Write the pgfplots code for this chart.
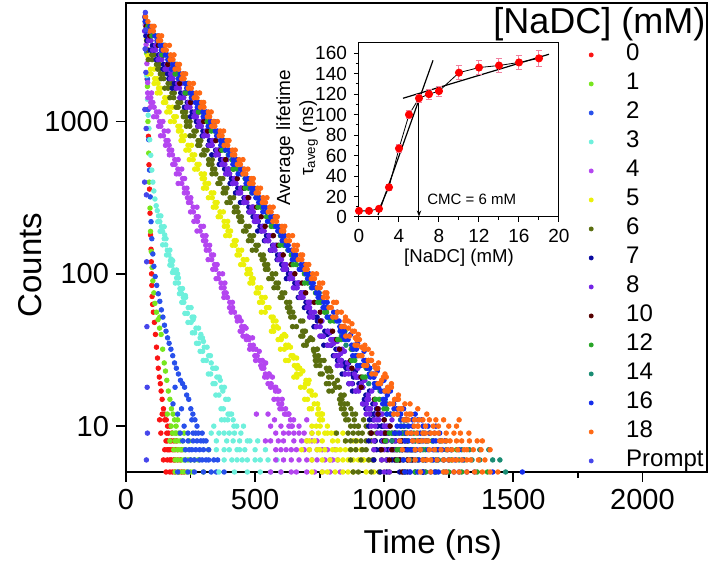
\documentclass[border=0pt]{standalone}
\usepackage{fontspec}
\setmainfont{Liberation Sans}
\usepackage{pgfplots}
\pgfplotsset{compat=1.18}
\usetikzlibrary{arrows.meta}
\definecolor{c0}{RGB}{250,20,20}
\definecolor{c1}{RGB}{120,230,30}
\definecolor{c2}{RGB}{40,80,235}
\definecolor{c3}{RGB}{110,240,220}
\definecolor{c4}{RGB}{180,70,240}
\definecolor{c5}{RGB}{235,240,10}
\definecolor{c6}{RGB}{90,110,15}
\definecolor{c7}{RGB}{10,10,160}
\definecolor{c8}{RGB}{115,35,230}
\definecolor{c10}{RGB}{85,0,0}
\definecolor{c12}{RGB}{40,165,40}
\definecolor{c14}{RGB}{25,140,115}
\definecolor{c16}{RGB}{20,45,235}
\definecolor{c18}{RGB}{255,105,20}
\definecolor{cp}{RGB}{70,70,235}
\definecolor{errpink}{RGB}{240,130,160}
\pgfplotsset{pt/.style={only marks, mark=*, mark size=1.15pt, color=#1, mark options={draw=#1, fill=#1}}}
\begin{document}
\begin{tikzpicture}
\begin{axis}[
 name=main, at={(0,0)}, anchor=south west,
 scale only axis, width=290.5pt, height=234.5pt,
 xmin=0, xmax=2250, ymode=log, ymin=5, ymax=6000,
 xtick={0,500,1000,1500,2000}, xticklabels={0,500,1000,1500,2000},
 minor xtick={250,750,1250,1750},
 ytick={10,100,1000}, yticklabels={10,100,1000},
 minor y tick style={draw=none},
 tick align=outside, tick pos=left,
 major tick length=5pt, minor tick length=3pt,
 tick style={black, line width=0.9pt},
 axis line style={line width=1pt},
 ticklabel style={font=\fontsize{14.5}{16}\selectfont},
 xlabel={Time (ns)}, ylabel={Counts},
 label style={font=\fontsize{16.5}{19}\selectfont},
 xlabel style={at={(axis description cs:0.528,-0.156)}, anchor=center},
 ylabel style={at={(axis description cs:-0.165,0.441)}, anchor=center},
 legend style={at={(rel axis cs:0.7966,0.921)}, anchor=north west, draw=none, fill=none,
   inner sep=0pt, row sep=0pt, column sep=15pt, font=\fontsize{12}{13}\selectfont,
   nodes={inner sep=1.5pt, text height=8.7pt, text depth=2.8pt}},
 legend cell align=left,
 legend image post style={mark size=1pt},
]
% 0
\addplot[pt=c0] coordinates {(76,4400)(79,3000)(82,1900)(84,1200)(87,800)(89,520)(91,360)(93,250)(95,180)(97,145)(98,120)(99,100)(100,84)(101,71)(103,63)(106,56)(110,48)(114,40)(118,33)(122,28)(125,24)(129,21)(133,19)(136,17)(140,15)(145,13)(150,12)(156,11)(161,10)
(140,12)(150,11)(165,9)(170,10)(175,8)(160,8)(180,7)(190,7)(150,7)(170,6)(185,6)(200,6)(145,6)(195,8)(210,6)(215,7)(155,5)(190,5)(225,5)(135,9)(158,9)(178,9)(205,5)(130,11)(165,7)(155,8)
(170,8)(185,8)(160,7)(170,7)(200,7)(160,6)(175,6)(190,6)(170,5)(180,5)(215,5)};
% 1
\addplot[pt=c1] coordinates {(77,4200)(80,2800)(83,1700)(85,1000)(88,620)(90,400)(93,270)(95,190)(98,140)(101,110)(104,90)(108,75)(112,64)(118,56)(124,50)(130,44)(136,40)(131,52)(142,32)(148,26)(153,23)(158,20)(164,17)(170,15)(176,13)(182,12)(188,11)(194,10)
(180,9)(195,9)(200,8)(210,8)(185,7)(220,7)(230,7)(190,6)(215,6)(240,6)(250,6)(205,5)(235,5)(260,5)(170,8)(225,9)(245,8)(200,11)(175,10)(160,12)(280,6)(300,5)(320,7)
(190,9)(205,9)(190,8)(220,8)(200,7)(210,7)(200,6)(225,6)(265,6)(190,5)(220,5)(250,5)};
% 2
\addplot[pt=c2] coordinates {(78,4000)(80,2900)(83,1900)(86,1200)(88,760)(91,480)(94,320)(97,220)(100,170)(104,135)(108,112)(113,96)(119,84)(125,74)(131,66)(137,58)(143,52)(149,46)(155,42)(161,38)(167,35)(174,32)(181,29)(188,26)(195,24)(203,22)(211,20)(219,19)(227,18)(235,16)(243,15)(251,13)(259,12)(267,11)(275,10)
(260,9)(280,9)(240,8)(290,8)(310,8)(230,7)(270,7)(300,7)(250,6)(285,6)(320,6)(340,6)(265,5)(330,5)(210,9)(225,10)(295,9)(255,11)(200,12)(215,13)(355,6)(380,5)(182,14)(190,18)
(240,9)(270,9)(220,8)(260,8)(275,8)(300,8)(245,7)(255,7)(285,7)(320,7)(230,6)(265,6)(295,6)(310,6)(200,5)(240,5)(300,5)(350,5)};
% 3
\addplot[pt=c3] coordinates {(75,4300)(77,3000)(80,2000)(83,1400)(86,1100)(89,900)(92,760)(96,600)(100,480)(104,400)(108,350)(112,310)(117,280)(121,260)(126,240)(131,220)(137,204)(142,190)(148,170)(154,155)(160,143)(166,133)(172,122)(178,114)(185,106)(190,102)(196,94)(203,87)(209,80)(216,74)(222,70)(224,65)(241,60)(238,55)(256,52)(252,48)(271,44)(266,41)(287,38)(281,35)(303,33)(297,31)(320,29)(311,27)(336,24)(328,22)(352,21)(345,19)(370,18)(360,16)(386,15)(377,13)(402,12)(394,11)(418,10)
(150,180)(175,125)(200,100)(212,78)(230,72)(260,50)(290,40)(300,36)(330,26)(350,24)(365,20)(375,17)
(135,240)(123,220)(148,204)(132,190)(155,170)(142,155)(170,143)(157,133)(181,122)(170,114)(196,106)(180,102)(203,94)(191,87)(219,80)(207,74)(231,70)(216,65)(252,60)(228,55)(263,52)(240,48)(281,44)(257,41)(296,38)(273,35)(314,33)(287,31)(327,29)(299,27)(346,24)(319,22)(361,21)(337,19)(381,18)(348,16)(396,15)(368,13)(409,12)(382,11)(429,10)
(420,9)(440,8)(380,7)(460,7)(500,6)(350,8)(410,6)(520,6)(360,5)(470,5)(560,5)(400,9)(430,7)(480,8)(540,7)(585,6)(450,6)(330,9)(395,12)(370,11)(415,11)(455,10)(340,10)(600,5)
(360,9)(380,9)(445,9)(390,8)(415,8)(470,8)(510,8)(350,7)(400,7)(440,7)(500,7)(380,6)(430,6)(470,6)(550,6)(420,5)(520,5)};
% 4
\addplot[pt=c4] coordinates {(75,4300)(78,3200)(81,2400)(84,1800)(84,1540)(96,1433)(96,1334)(109,1241)(118,1155)(119,1075)(130,1000)(135,931)(148,866)(145,806)(155,750)(167,698)(167,649)(180,604)(189,562)(190,523)(201,487)(206,453)(219,422)(216,392)(226,365)(238,340)(238,316)(251,294)(260,274)(261,255)(272,237)(277,221)(290,205)(287,191)(297,178)(309,165)(309,154)(322,143)(331,133)(332,124)(343,115)(348,107)(361,100)(358,93)(368,87)(380,81)(380,75)(393,70)(402,65)(413,60)(407,56)(438,52)(431,49)(459,45)(442,42)(467,39)(466,37)(493,34)(479,32)(508,29)(502,27)(533,25)(526,24)(554,22)(537,21)(562,19)(560,18)(588,17)(573,15)(603,14)(596,13)(628,12)(620,12)(649,11)(631,10)
(99,1540)(85,1433)(104,1334)(95,1241)(128,1155)(107,1075)(143,1000)(126,931)(163,866)(134,806)(163,750)(153,698)(177,649)(168,604)(202,562)(181,523)(216,487)(195,453)(227,422)(202,392)(236,365)(226,340)(251,316)(242,294)(275,274)(250,255)(280,237)(263,221)(300,205)(275,191)(310,178)(300,165)(324,154)(311,143)(339,133)(318,124)(353,115)(336,107)(374,100)(349,93)(383,87)(369,81)(388,75)(379,70)(412,65)(401,60)(420,56)(429,52)(446,49)(448,45)(450,42)(453,39)(476,37)(481,34)(492,32)(499,29)(517,27)(522,25)(534,24)(540,22)(547,21)(550,19)(573,18)(579,17)(588,15)(592,14)(604,13)(614,12)(630,12)(637,11)(644,10)
(440,50)(452,44)(465,44)(478,38)(490,38)(503,32)(516,31)(528,27)(541,26)(554,22)(567,21)(580,18)(592,17)(605,15)(618,13)(631,12)
(650,9)(680,8)(620,7)(710,7)(740,6)(590,8)(670,6)(770,6)(560,5)(700,5)(800,6)(830,5)(610,9)(640,7)(690,9)(720,8)(760,7)(580,6)(660,5)(540,8)(600,10)(700,11)(550,12)(575,11)(760,5)(810,7)(505,12)
(560,10)(640,10)(670,10)(580,9)(630,9)(670,9)(720,9)(560,8)(610,8)(650,8)(700,8)(740,8)(580,7)(600,7)(660,7)(690,7)(740,7)(780,7)(610,6)(640,6)(700,6)(720,6)(790,6)(820,6)(600,5)(640,5)(730,5)(790,5)};
% 5
\addplot[pt=c5] coordinates {(75,4500)(79,3500)(84,2700)(95,2207)(97,2054)(111,1911)(124,1778)(126,1655)(132,1540)(150,1433)(154,1334)(166,1241)(170,1155)(185,1075)(187,1000)(201,931)(214,866)(216,806)(222,750)(240,698)(244,649)(256,604)(260,562)(275,523)(277,487)(291,453)(304,422)(306,392)(312,365)(330,340)(334,316)(345,294)(349,274)(364,255)(366,237)(380,221)(393,205)(395,191)(401,178)(419,165)(423,154)(435,143)(439,133)(454,124)(456,115)(470,107)(483,100)(485,93)(491,87)(509,81)(513,75)(525,70)(529,65)(544,60)(539,56)(562,52)(581,49)(571,45)(572,42)(605,39)(601,37)(619,34)(613,32)(639,29)(629,27)(652,25)(671,24)(661,22)(662,21)(695,19)(691,18)(709,17)(703,15)(729,14)(719,13)(742,12)(761,12)(751,11)(752,10)
(109,2207)(85,2054)(121,1911)(109,1778)(134,1655)(121,1540)(163,1433)(145,1334)(180,1241)(158,1155)(195,1075)(172,1000)(209,931)(203,866)(229,806)(213,750)(254,698)(232,649)(266,604)(245,562)(283,523)(266,487)(304,453)(295,422)(320,392)(300,365)(340,340)(319,316)(353,294)(338,274)(377,255)(357,237)(394,221)(381,205)(405,191)(386,178)(427,165)(412,154)(448,143)(430,133)(468,124)(444,115)(480,107)(468,100)(493,93)(480,87)(522,81)(504,75)(539,70)(517,65)(554,60)(524,56)(570,52)(570,49)(584,45)(563,42)(619,39)(589,37)(629,34)(598,32)(647,29)(618,27)(665,25)(662,24)(675,22)(650,21)(705,19)(676,18)(717,17)(692,15)(742,14)(710,13)(756,12)(749,12)(761,11)(737,10)
(590,44)(601,38)(613,40)(625,33)(637,33)(649,28)(661,28)(673,24)(685,23)(697,20)(709,20)(721,16)(733,16)(745,13)(757,12)
(770,9)(800,8)(740,7)(830,7)(860,6)(700,8)(790,6)(900,6)(760,5)(880,5)(940,6)(720,9)(810,9)(850,8)(960,5)(680,7)
(730,8)(750,7)(780,9)(815,7)(840,6)(870,7)(895,8)(920,6)(780,5)(840,5)(910,7)(750,11)
(720,10)(780,10)(745,9)(795,9)(840,9)(710,8)(760,8)(820,8)(880,8)(710,7)(770,7)(800,7)(850,7)(890,7)(720,6)(760,6)(820,6)(880,6)(920,6)(960,6)(720,5)(810,5)(860,5)(930,5)(1000,5)};
% 6
\addplot[pt=c6] coordinates {(74,4900)(78,4000)(80,3400)(84,2943)(100,2738)(101,2548)(118,2371)(131,2207)(133,2054)(146,1911)(163,1778)(163,1655)(178,1540)(185,1433)(201,1334)(202,1241)(219,1155)(232,1075)(234,1000)(247,931)(263,866)(263,806)(279,750)(286,698)(302,649)(303,604)(320,562)(333,523)(335,487)(348,453)(364,422)(364,392)(379,365)(386,340)(403,316)(404,294)(421,274)(434,255)(436,237)(449,221)(465,205)(465,191)(480,178)(487,165)(503,154)(504,143)(521,133)(535,124)(537,115)(550,107)(566,100)(566,93)(581,87)(588,81)(604,75)(605,70)(622,65)(635,60)(632,56)(651,52)(676,49)(660,45)(684,42)(685,39)(711,37)(698,34)(726,32)(745,29)(733,27)(751,25)(776,24)(760,22)(785,21)(786,19)(812,18)(799,17)(827,15)(846,14)(834,13)(852,12)(877,12)(861,11)(885,10)
(109,2738)(86,2548)(129,2371)(123,2207)(145,2054)(136,1911)(177,1778)(150,1655)(187,1540)(170,1433)(212,1334)(194,1241)(231,1155)(222,1075)(248,1000)(234,931)(272,866)(248,806)(290,750)(278,698)(314,649)(293,604)(334,562)(320,523)(344,487)(333,453)(375,422)(356,392)(391,365)(376,340)(417,316)(391,294)(430,274)(419,255)(447,237)(441,221)(477,205)(455,191)(494,178)(474,165)(512,154)(489,143)(532,133)(527,124)(549,115)(540,107)(580,100)(553,93)(590,87)(573,81)(615,75)(597,70)(634,65)(625,60)(646,56)(638,52)(685,49)(645,45)(695,42)(677,39)(723,37)(688,34)(740,32)(732,29)(742,27)(736,25)(787,24)(752,22)(797,21)(776,19)(826,18)(786,17)(836,15)(831,14)(845,13)(844,12)(889,12)(851,11)(899,10)
(690,42)(702,36)(715,38)(728,31)(741,32)(754,27)(767,27)(780,23)(793,23)(806,19)(819,20)(832,16)(845,16)(858,14)(871,13)(884,11)
(900,9)(930,8)(870,7)(960,7)(990,6)(850,8)(910,6)(1020,5)(880,5)(945,9)(815,9)(1060,6)
(860,9)(890,8)(915,7)(940,6)(965,8)(985,7)(1000,9)(900,10)(920,11)(950,5)(1040,7)
(870,10)(930,10)(880,9)(915,9)(970,9)(870,8)(910,8)(950,8)(1010,8)(890,7)(930,7)(1010,7)(870,6)(955,6)(1010,6)(1050,6)(900,5)(980,5)(1080,5)};
% 7
\addplot[pt=c7] coordinates {(74,4800)(77,3652)(82,3398)(102,3162)(107,2943)(126,2738)(125,2548)(145,2371)(153,2207)(161,2054)(180,1911)(187,1778)(192,1655)(212,1540)(217,1433)(237,1334)(236,1241)(256,1155)(264,1075)(272,1000)(291,931)(298,866)(303,806)(323,750)(328,698)(347,649)(346,604)(366,562)(374,523)(382,487)(401,453)(408,422)(413,392)(433,365)(438,340)(457,316)(456,294)(476,274)(484,255)(492,237)(512,221)(519,205)(524,191)(544,178)(549,165)(568,154)(567,143)(587,133)(595,124)(603,115)(622,107)(629,100)(634,93)(654,87)(659,81)(678,75)(677,70)(697,65)(705,60)(708,56)(740,52)(741,49)(736,45)(770,42)(766,39)(798,37)(780,34)(813,32)(816,29)(819,27)(851,25)(852,24)(847,22)(881,21)(877,19)(908,18)(890,17)(923,15)(926,14)(929,13)(961,12)(962,12)(957,11)(991,10)
(111,3162)(94,2943)(141,2738)(117,2548)(156,2371)(143,2207)(173,2054)(166,1911)(196,1778)(179,1655)(227,1540)(209,1433)(248,1334)(226,1241)(268,1155)(250,1075)(281,1000)(278,931)(313,866)(295,806)(334,750)(318,698)(359,649)(332,604)(375,562)(361,523)(397,487)(393,453)(419,422)(403,392)(445,365)(424,340)(466,316)(443,294)(491,274)(476,255)(503,237)(502,221)(531,205)(510,191)(553,178)(536,165)(583,154)(559,143)(598,133)(585,124)(615,115)(608,107)(638,100)(621,93)(669,87)(651,81)(689,75)(667,70)(709,65)(691,60)(717,56)(727,52)(756,49)(728,45)(781,42)(756,39)(810,37)(766,34)(822,32)(803,29)(834,27)(843,25)(863,24)(837,22)(893,21)(863,19)(917,18)(877,17)(938,15)(918,14)(940,13)(951,12)(974,12)(943,11)(1000,10)
(780,40)(795,34)(808,36)(822,29)(835,31)(849,26)(862,26)(875,22)(889,23)(902,19)(916,20)(929,16)(943,17)(956,14)(970,13)(984,12)
(1000,9)(1030,8)(970,7)(1060,7)(1090,6)(940,8)(1010,6)(1120,5)(985,5)(1045,9)
(950,9)(965,8)(990,8)(1015,7)(1040,6)(1065,8)(1080,9)(1105,7)(1000,11)(975,10)(1060,5)
(940,10)(990,10)(1020,10)(985,9)(1015,9)(1070,9)(1005,8)(1045,8)(1080,8)(985,7)(1035,7)(1080,7)(1110,7)(960,6)(1030,6)(1060,6)(1105,6)(1010,5)(1090,5)(1150,5)};
% 8
\addplot[pt=c8] coordinates {(74,4900)(72,3924)(90,3652)(97,3398)(115,3162)(115,2943)(133,2738)(139,2548)(158,2371)(164,2207)(173,2054)(182,1911)(200,1778)(207,1655)(225,1540)(224,1433)(242,1334)(248,1241)(267,1155)(273,1075)(282,1000)(291,931)(309,866)(316,806)(334,750)(334,698)(352,649)(358,604)(377,562)(383,523)(392,487)(401,453)(419,422)(426,392)(444,365)(444,340)(462,316)(468,294)(487,274)(493,255)(501,237)(510,221)(528,205)(535,191)(553,178)(553,165)(571,154)(577,143)(596,133)(602,124)(611,115)(620,107)(638,100)(645,93)(663,87)(663,81)(680,75)(686,70)(705,65)(711,60)(716,56)(723,52)(752,49)(752,45)(781,42)(764,39)(793,37)(791,34)(823,32)(821,29)(826,27)(833,25)(862,24)(862,22)(891,21)(874,19)(903,18)(901,17)(933,15)(931,14)(936,13)(943,12)(972,12)(972,11)(1001,10)
(99,3652)(87,3398)(129,3162)(103,2943)(140,2738)(124,2548)(169,2371)(151,2207)(182,2054)(172,1911)(214,1778)(195,1655)(232,1540)(209,1433)(253,1334)(235,1241)(276,1155)(263,1075)(296,1000)(279,931)(316,866)(301,806)(345,750)(321,698)(361,649)(348,604)(391,562)(371,523)(399,487)(386,453)(430,422)(413,392)(453,365)(434,340)(476,316)(456,294)(494,274)(478,255)(512,237)(497,221)(537,205)(525,191)(567,178)(541,165)(578,154)(562,143)(607,133)(589,124)(620,115)(610,107)(652,100)(633,93)(670,87)(648,81)(691,75)(673,70)(714,65)(701,60)(730,56)(711,52)(759,49)(737,45)(792,42)(751,39)(802,37)(781,34)(837,32)(809,29)(833,27)(818,25)(873,24)(849,22)(900,21)(864,19)(917,18)(889,17)(940,15)(916,14)(947,13)(930,12)(981,12)(962,11)(1015,10)
(790,41)(805,35)(818,36)(832,30)(846,31)(858,26)(872,27)(885,22)(898,24)(912,19)(925,20)(938,16)(952,17)(965,14)(978,13)(992,12)
(1010,9)(1040,8)(1000,7)(1070,7)(1100,6)(960,8)(1130,6)(1020,5)(1160,5)(990,6)(1055,9)(980,11)
(975,9)(995,8)(1025,7)(1050,6)(1085,8)(1115,7)(1000,5)(1075,5)(965,10)(1030,11)
(950,10)(1010,10)(990,9)(1030,9)(1075,9)(1010,8)(1060,8)(1110,8)(960,7)(1045,7)(1090,7)(1010,6)(1070,6)(1150,6)(1100,5)(1200,5)};
% 10
\addplot[pt=c10] coordinates {(78,4217)(92,3652)(125,3162)(144,2738)(162,2371)(193,2054)(208,1778)(235,1540)(250,1334)(283,1155)(301,1000)(316,866)(348,750)(367,649)(386,562)(416,487)(431,422)(458,365)(473,316)(506,274)(524,237)(539,205)(571,178)(590,154)(609,133)(639,115)(654,100)(682,87)(696,75)(729,65)(752,56)(753,49)(800,42)(816,37)(827,32)(870,27)(875,24)(910,21)(911,18)(962,15)(975,13)(976,12)(1023,10)
(1040,9)(1060,8)(1000,8)(1085,7)(1110,6)(1020,6)(1135,8)(1150,5)(1070,5)(990,7)(950,9)
(1005,9)(1030,7)(1045,6)(1090,8)(1120,7)(1000,11)(1030,8)(1070,8)(1050,7)(1100,7)(1060,6)(1090,6)};
% 12
\addplot[pt=c12] coordinates {(85,4217)(113,3652)(139,3162)(151,2738)(180,2371)(200,2054)(231,1778)(244,1540)(274,1334)(293,1155)(314,1000)(342,866)(368,750)(381,649)(410,562)(430,487)(461,422)(474,365)(504,316)(523,274)(544,237)(572,205)(598,178)(611,154)(640,133)(660,115)(691,100)(704,87)(734,75)(753,65)(769,56)(806,49)(837,42)(833,37)(872,32)(886,27)(930,24)(927,21)(969,18)(981,15)(999,13)(1036,12)(1067,10)
(100,3652)(148,3162)(139,2738)(194,2371)(190,2054)(239,1778)(229,1540)(285,1334)(280,1155)(323,1000)(330,866)(382,750)(371,649)(418,562)(415,487)(472,422)(461,365)(513,316)(511,274)(558,237)(562,205)(606,178)(596,154)(651,133)(647,115)(700,100)(692,87)(748,75)(743,65)(777,56)(791,49)(848,42)(820,37)(881,32)(874,27)(944,24)(917,21)(977,18)(966,15)(1010,13)(1023,12)(1076,10)
(1090,8)(1115,9)(1140,7)(1185,8)(1230,6)(1075,6)(1160,5)(1280,7)(1310,6)(1050,7)(1360,5)(1120,5)(1020,9)
(1005,8)(1030,9)(1060,7)(1095,7)(1130,6)(1170,8)(1205,7)(1250,5)(1080,11)
(1070,9)(1150,9)(1120,8)(1160,8)(1220,8)(1110,7)(1160,7)(1240,7)(1050,6)(1150,6)(1200,6)(1260,6)(1080,5)(1200,5)(1300,5)(1400,5)};
% 14
\addplot[pt=c14] coordinates {(79,4532)(94,3924)(128,3398)(143,2943)(165,2548)(196,2207)(214,1911)(243,1655)(255,1433)(286,1241)(310,1075)(326,931)(360,806)(375,698)(396,604)(427,523)(445,453)(474,392)(487,340)(518,294)(542,255)(557,221)(591,191)(606,165)(627,143)(659,124)(677,107)(706,93)(718,81)(749,70)(778,60)(779,52)(832,45)(834,39)(852,34)(896,29)(906,25)(945,22)(940,19)(984,17)(1010,14)(1011,12)(1063,11)
(1080,9)(1120,8)(1150,7)(1210,6)(1100,6)(1260,7)(1340,6)(1175,9)(1405,7)(1448,6)(1470,5)(1050,9)(1230,5)
(1030,8)(1070,7)(1090,10)(1130,9)(1185,6)(1240,8)(1300,7)(1370,6)
(1140,8)(1190,8)(1120,7)(1200,7)(1330,7)(1370,7)(1160,6)(1250,6)(1290,6)(1420,6)};
% 16
\addplot[pt=c16] coordinates {(74,4532)(93,4217)(95,3924)(112,3652)(129,3398)(132,3162)(148,2943)(152,2738)(174,2548)(181,2371)(191,2207)(210,2054)(212,1911)(229,1778)(246,1655)(249,1540)(265,1433)(269,1334)(291,1241)(298,1155)(308,1075)(327,1000)(329,931)(346,866)(363,806)(366,750)(382,698)(386,649)(408,604)(415,562)(425,523)(444,487)(446,453)(463,422)(480,392)(483,365)(499,340)(503,316)(525,294)(532,274)(542,255)(561,237)(563,221)(580,205)(597,191)(600,178)(616,165)(620,154)(642,143)(649,133)(659,124)(678,115)(680,107)(697,100)(714,93)(717,87)(733,81)(737,75)(759,70)(766,65)(772,60)(804,56)(791,52)(817,49)(840,45)(829,42)(854,39)(847,37)(883,34)(878,32)(889,29)(921,27)(908,25)(934,24)(957,22)(946,21)(971,19)(964,18)(1000,17)(996,15)(1006,14)(1038,13)(1025,12)(1051,12)(1074,11)(1063,10)
(80,3924)(125,3652)(120,3398)(146,3162)(137,2943)(160,2738)(162,2548)(191,2371)(176,2207)(223,2054)(203,1911)(243,1778)(235,1655)(257,1540)(253,1433)(279,1334)(276,1241)(311,1155)(299,1075)(341,1000)(318,931)(354,866)(351,806)(376,750)(367,698)(399,649)(399,604)(429,562)(414,523)(452,487)(434,453)(473,422)(465,392)(496,365)(490,340)(517,316)(514,294)(540,274)(530,255)(571,237)(548,221)(593,205)(588,191)(614,178)(605,165)(628,154)(630,143)(659,133)(644,124)(691,115)(671,107)(711,100)(703,93)(725,87)(721,81)(747,75)(744,70)(779,65)(763,60)(818,56)(780,52)(825,49)(828,45)(839,42)(839,39)(860,37)(874,34)(892,32)(878,29)(929,27)(896,25)(944,24)(942,22)(959,21)(962,19)(978,18)(989,17)(1004,15)(994,14)(1048,13)(1010,12)(1064,12)(1065,11)(1077,10)
(845,42)(858,38)(870,40)(883,33)(897,35)(910,29)(922,31)(935,25)(948,27)(960,21)(973,23)(986,19)(999,20)(1012,16)(1024,17)(1037,14)(1050,15)(1062,12)(1075,13)(1088,11)
(1085,9)(1110,8)(1140,9)(1170,10)(1200,8)(1225,7)(1090,7)(1120,6)(1160,6)(1190,7)(1250,6)(1060,8)(1100,5)(1210,5)(1270,5)(1130,11)(1040,9)(1305,6)(1535,5)(1180,5)
(1080,8)(1105,9)(1125,7)(1150,8)(1175,9)(1205,6)(1235,8)(1260,7)(1290,7)(1150,5)(1240,5)(1320,5)(1095,10)(1120,12)(1145,11)
(1085,11)(1110,11)(1050,10)(1110,10)(1150,10)(1200,10)(1060,9)(1100,9)(1155,9)(1195,9)(1215,9)(1095,8)(1135,8)(1165,8)(1190,8)(1215,8)(1070,7)(1105,7)(1140,7)(1170,7)(1210,7)(1245,7)(1075,6)(1135,6)(1190,6)(1230,6)(1275,6)(1080,5)(1130,5)(1195,5)(1290,5)(1350,5)(1420,5)};
% 18
\addplot[pt=c18] coordinates {(76,4870)(85,4532)(101,4217)(106,3924)(127,3652)(134,3398)(153,3162)(156,2943)(173,2738)(182,2548)(199,2371)(204,2207)(220,2054)(225,1911)(246,1778)(253,1655)(272,1540)(275,1433)(293,1334)(302,1241)(319,1155)(324,1075)(339,1000)(344,931)(365,866)(372,806)(391,750)(394,698)(412,649)(421,604)(438,562)(443,523)(459,487)(464,453)(485,422)(492,392)(510,365)(513,340)(531,316)(540,294)(557,274)(562,255)(578,237)(583,221)(604,205)(611,191)(630,178)(633,165)(651,154)(660,143)(676,133)(681,124)(697,115)(702,107)(723,100)(730,93)(749,87)(752,81)(770,75)(779,70)(804,65)(795,60)(819,56)(813,52)(848,49)(846,45)(877,42)(865,39)(893,37)(896,34)(923,32)(914,29)(938,27)(932,25)(967,24)(966,22)(997,21)(985,19)(1013,18)(1015,17)(1042,15)(1033,14)(1057,13)(1051,12)(1086,12)(1085,11)(1116,10)
(109,4217)(92,3924)(138,3652)(125,3398)(168,3162)(144,2943)(186,2738)(171,2548)(207,2371)(190,2207)(231,2054)(216,1911)(261,1778)(241,1655)(285,1540)(264,1433)(301,1334)(288,1241)(330,1155)(315,1075)(354,1000)(332,931)(378,866)(361,806)(399,750)(380,698)(423,649)(412,604)(453,562)(431,523)(472,487)(453,453)(493,422)(478,392)(521,365)(504,340)(546,316)(528,294)(570,274)(551,255)(586,237)(569,221)(615,205)(602,191)(645,178)(621,165)(664,154)(649,143)(684,133)(667,124)(708,115)(693,107)(738,100)(718,93)(762,87)(741,81)(778,75)(765,70)(815,65)(786,60)(834,56)(801,52)(861,49)(835,45)(885,42)(851,39)(904,37)(887,34)(938,32)(902,29)(951,27)(921,25)(975,24)(952,22)(1008,21)(976,19)(1028,18)(1003,17)(1055,15)(1022,14)(1065,13)(1037,12)(1097,12)(1076,11)(1131,10)
(850,52)(862,44)(875,47)(888,38)(900,40)(912,33)(925,34)(940,27)(952,30)(963,25)(978,26)(990,20)(1003,22)(1016,18)(1028,19)(1040,15)(1055,16)(1068,13)(1080,14)(1093,11)(1104,12)(1118,11)
(1105,9)(1135,11)(1160,9)(1190,10)(1215,8)(1240,9)(1262,7)(1290,11)(1120,7)(1175,7)(1205,6)(1250,6)(1300,8)(1328,9)(1345,7)(1375,7)(1390,6)(1140,5)(1230,5)(1320,5)(1440,5)(1150,6)(1280,6)(1095,6)(1060,8)(1070,7)
(1110,8)(1125,9)(1145,8)(1170,8)(1195,9)(1225,8)(1255,8)(1270,9)(1310,7)(1335,6)(1360,8)(1180,6)(1220,7)(1240,5)(1265,6)(1350,5)(1380,8)(1410,7)(1280,10)(1200,11)(1165,12)(1130,13)(1100,14)
(1150,11)(1175,11)(1230,11)(1130,10)(1160,10)(1210,10)(1250,10)(1090,9)(1150,9)(1180,9)(1210,9)(1295,9)(1130,8)(1160,8)(1240,8)(1280,8)(1330,8)(1140,7)(1195,7)(1245,7)(1285,7)(1320,7)(1120,6)(1165,6)(1230,6)(1300,6)(1320,6)(1365,6)(1180,5)(1270,5)(1290,5)(1380,5)(1410,5)};
% Prompt
\addplot[pt=cp] coordinates {(72,400)(73,1200)(74,3000)(75,5200)(76,4000)(77,2100)(78,900)(79,330)(80,120)(81,45)(82,18)(83,9)(79,6)};
\legend{0,1,2,3,4,5,6,7,8,10,12,14,16,18,Prompt}
\node[anchor=north east, inner sep=0pt, font=\fontsize{18}{20}\selectfont] at (rel axis cs:0.998,0.992) {[NaDC] (mM)};
\end{axis}
\begin{axis}[
 at={(116.5pt,127.5pt)}, anchor=south west,
 scale only axis, width=100pt, height=87pt,
 xmin=0, xmax=20, ymin=0, ymax=170,
 xtick={0,4,...,20}, minor xtick={2,6,10,14,18},
 ytick={0,20,...,160}, minor ytick={10,30,...,150},
 tick align=outside, tick pos=left,
 major tick length=2.5pt, minor tick length=1.5pt,
 axis line style={line width=0.5pt}, tick style={line width=0.5pt, black},
 ticklabel style={font=\fontsize{9.5}{10}\selectfont},
 /pgf/number format/assume math mode=true,
 xlabel={[NaDC] (mM)}, ylabel={Average lifetime\\τ\textsubscript{aveg} (ns)},
 xlabel style={font=\fontsize{9.3}{10.5}\selectfont, at={(axis description cs:0.5,-0.235)}, anchor=center},
 ylabel style={font=\fontsize{9.5}{11.5}\selectfont, align=center, at={(axis description cs:-0.31,0.454)}, anchor=center},
 axis background/.style={fill=white},
 clip=false,
]
\addplot[black, line width=0.4pt] coordinates {(0,6)(1,6)(2,8)(3,29)(4,67)(5,100)(6,116)(7,120)(8,123)(10,141)(12,146)(14,148)(16,151)(18,155)};
\addplot[black, line width=0.6pt] coordinates {(1.9,2)(7.4,153)};
\addplot[black, line width=0.6pt] coordinates {(4.4,116)(19,159)};
\addplot[black, line width=0.5pt, -{Stealth[length=3pt,width=2.2pt]}] coordinates {(6,121)(6,0.5)};
\addplot[only marks, mark=*, mark size=1.8pt, color=red, mark options={fill=red, draw=red},
  error bars/.cd, y dir=both, y explicit, error bar style={color=errpink, line width=0.5pt}, error mark options={rotate=90, mark size=1.5pt, color=errpink}]
 coordinates {(0,6) +- (0,2) (1,6) +- (0,2) (2,8) +- (0,2) (3,29) +- (0,3) (4,67) +- (0,4) (5,100) +- (0,4) (6,116) +- (0,4) (7,120) +- (0,5) (8,123) +- (0,5) (10,141) +- (0,7) (12,146) +- (0,7) (14,148) +- (0,7) (16,151) +- (0,7) (18,155) +- (0,8)};
\node[anchor=west, inner sep=0pt, font=\fontsize{7.5}{9}\selectfont] at (axis cs:6.8,17) {CMC = 6 mM};
\end{axis}
\pgfresetboundingbox
\path[use as bounding box] (-63pt,-50.5pt) rectangle (291.5pt,236pt);
\end{tikzpicture}
\end{document}
